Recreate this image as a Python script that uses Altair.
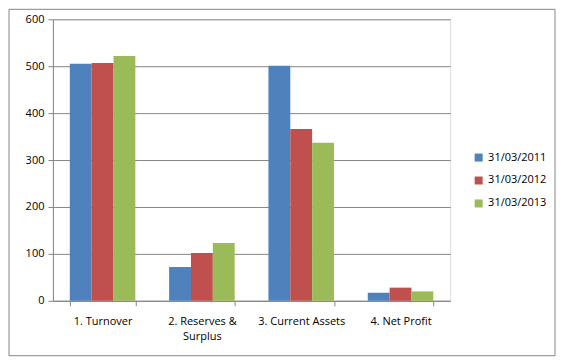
import altair as alt
import pandas as pd

categories = ["1. Turnover", "2. Reserves & Surplus", "3. Current Assets", "4. Net Profit"]
series = ["31/03/2011", "31/03/2012", "31/03/2013"]
values_2011 = [505, 72, 501, 17]
values_2012 = [507, 102, 366, 28]
values_2013 = [522, 123, 337, 20]
colors = ["#4F81BD", "#C0504D", "#9BBB59"]

rows = []
for s, vals in zip(series, [values_2011, values_2012, values_2013]):
    for c, v in zip(categories, vals):
        rows.append({"category": c, "series": s, "value": v})
df = pd.DataFrame(rows)

FONT = "Open Sans"
W, H = 398, 282

bars = alt.Chart(df).mark_bar().encode(
    x=alt.X("category:N", sort=categories, title=None,
            scale=alt.Scale(paddingInner=0.34, paddingOuter=0.17),
            axis=alt.Axis(labelAngle=0, tickBand="extent", tickSize=5,
                          domainColor="#868686", tickColor="#868686",
                          labelFont=FONT, labelFontSize=11, labelColor="#000000",
                          labelPadding=10, labelLimit=200, labelLineHeight=15,
                          labelExpr="datum.value == '2. Reserves & Surplus' ? ['2. Reserves &', 'Surplus'] : datum.value")),
    xOffset=alt.XOffset("series:N", sort=series, scale=alt.Scale(paddingInner=0, paddingOuter=0)),
    y=alt.Y("value:Q", title=None,
            scale=alt.Scale(domain=[0, 600], nice=False),
            axis=alt.Axis(values=[0, 100, 200, 300, 400, 500, 600], tickSize=5,
                          grid=True, gridColor="#868686", domainColor="#868686",
                          tickColor="#868686", labelFont=FONT, labelFontSize=11,
                          labelColor="#000000", labelPadding=4)),
    color=alt.Color("series:N", sort=series, title=None,
                    scale=alt.Scale(domain=series, range=colors),
                    legend=alt.Legend(orient="none", legendX=421, legendY=133,
                                      symbolType="square", symbolSize=64,
                                      symbolStrokeWidth=0,
                                      labelFont=FONT, labelFontSize=11,
                                      labelColor="#000000", rowPadding=11,
                                      labelOffset=4)),
)

frame = alt.Chart(pd.DataFrame({"a": [0]})).mark_rect(
    fill="transparent", stroke="#868686", strokeWidth=1, clip=False
).encode(
    x=alt.value(-44), x2=alt.value(503),
    y=alt.value(-10), y2=alt.value(337),
)

chart = alt.layer(frame, bars).properties(
    width=W, height=H, padding=0
).configure_view(stroke=None).configure(background="#ffffff")

chart.save("out.html", embed_options={"renderer": "svg", "actions": False})
